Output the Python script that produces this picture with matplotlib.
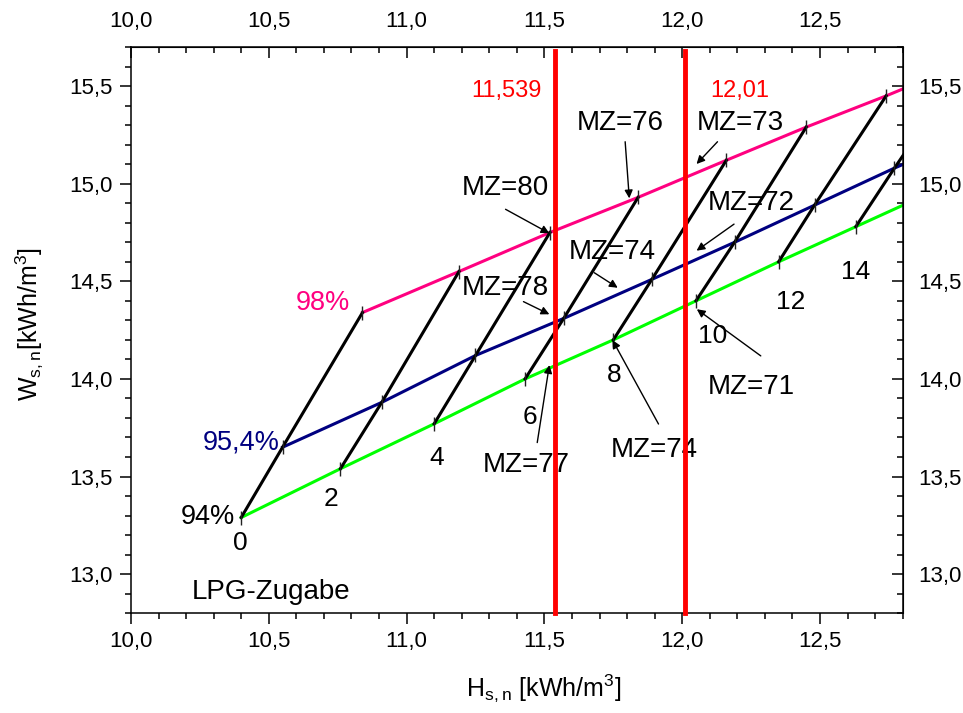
import matplotlib
matplotlib.use("Agg")
import matplotlib.pyplot as plt
import numpy as np
from matplotlib.ticker import FixedLocator, FuncFormatter

plt.rcParams['font.family'] = ['Liberation Sans', 'DejaVu Sans']

# LPG-Zugabe steps and the three methane-number curves (94 %, 95,4 %, 98 %)
lpg = [0, 2, 4, 6, 8, 10, 12, 14, 16]
green_x = [10.40, 10.76, 11.10, 11.43, 11.75, 12.05, 12.35, 12.63, 12.91]
green_y = [13.29, 13.54, 13.77, 14.00, 14.20, 14.40, 14.60, 14.78, 14.96]
blue_x = [10.55, 10.91, 11.25, 11.57, 11.89, 12.19, 12.48, 12.77, 13.05]
blue_y = [13.65, 13.88, 14.12, 14.31, 14.51, 14.70, 14.89, 15.08, 15.25]
pink_x = [10.84, 11.19, 11.52, 11.84, 12.16, 12.45, 12.74, 13.03, 13.31]
pink_y = [14.34, 14.55, 14.75, 14.93, 15.12, 15.29, 15.45, 15.62, 15.78]

curve_labels = ['94%', '95,4%', '98%']
ref_lines = [11.539, 12.01]
ref_labels = ['11,539', '12,01']

x_major = [10.0, 10.5, 11.0, 11.5, 12.0, 12.5]
y_major = [13.0, 13.5, 14.0, 14.5, 15.0, 15.5]
x_minor = np.round(np.arange(10.0, 12.81, 0.1), 2)
y_minor = np.round(np.arange(12.8, 15.71, 0.1), 2)

# MZ annotations: text, text pos, arrow tail, arrow head
mz_notes = [
    ('MZ=80', (11.359, 14.976), (11.359, 14.869), (11.518, 14.746)),
    ('MZ=76', (11.774, 15.309), (11.793, 15.215), (11.808, 14.925)),
    ('MZ=73', (12.209, 15.309), (12.128, 15.215), (12.052, 15.101)),
    ('MZ=72', (12.249, 14.899), (12.188, 14.793), (12.052, 14.657)),
    ('MZ=74', (11.747, 14.652), (11.681, 14.544), (11.766, 14.467)),
    ('MZ=78', (11.359, 14.464), (11.424, 14.396), (11.518, 14.331)),
    ('MZ=77', (11.435, 13.559), (11.474, 13.674), (11.518, 14.071)),
    ('MZ=74', (11.899, 13.636), (11.914, 13.769), (11.747, 14.199)),
    ('MZ=71', (12.250, 13.959), (12.285, 14.118), (12.053, 14.357)),
]
num_pos = [(10.397, 13.158), (10.725, 13.384), (11.109, 13.595), (11.446, 13.807),
           (11.754, 14.020), (12.112, 14.220), (12.394, 14.396), (12.629, 14.549)]

fig = plt.figure(figsize=(9.63, 7.13), dpi=100)
ax = fig.add_axes([0.136, 0.14, 0.8014, 0.794])

ax.plot(green_x, green_y, color='#00ff00', lw=2.2, zorder=2)
ax.plot(blue_x, blue_y, color='#000080', lw=2.2, zorder=2)
ax.plot(pink_x, pink_y, color='#ff0080', lw=2.2, zorder=2)

for i in range(len(lpg)):
    ax.plot([green_x[i], blue_x[i], pink_x[i]], [green_y[i], blue_y[i], pink_y[i]],
            color='black', lw=2.2, marker='|', ms=10, mew=1, mec='#222222', zorder=3)

for xv in ref_lines:
    ax.plot([xv, xv], [12.8, 15.68], color='red', lw=3.5, zorder=5, clip_on=False)
ax.text(11.362, 15.475, ref_labels[0], color='red', fontsize=17, ha='center', va='center')
ax.text(12.21, 15.475, ref_labels[1], color='red', fontsize=17, ha='center', va='center')

for txt, tpos, tail, head in mz_notes:
    ax.text(tpos[0], tpos[1], txt, fontsize=20, ha='center', va='center', zorder=4)
    ax.annotate('', xy=head, xytext=tail,
                arrowprops=dict(arrowstyle='-|>', lw=1, color='black', mutation_scale=12,
                                shrinkA=0, shrinkB=0), zorder=4)

for k, (px, py) in enumerate(num_pos):
    ax.text(px, py, str(lpg[k]), fontsize=19, ha='center', va='center')

ax.text(10.377, 13.295, curve_labels[0], color='black', fontsize=19.5, ha='right', va='center')
ax.text(10.540, 13.674, curve_labels[1], color='#000080', fontsize=19.5, ha='right', va='center')
ax.text(10.796, 14.387, curve_labels[2], color='#ff0080', fontsize=19.5, ha='right', va='center')
ax.text(10.51, 12.911, 'LPG-Zugabe', fontsize=20, ha='center', va='center')

ax.set_xlim(10.0, 12.8)
ax.set_ylim(12.8, 15.7)

comma = FuncFormatter(lambda v, p: f"{v:.1f}".replace('.', ','))
ax.xaxis.set_major_locator(FixedLocator(x_major))
ax.xaxis.set_minor_locator(FixedLocator(x_minor))
ax.yaxis.set_major_locator(FixedLocator(y_major))
ax.yaxis.set_minor_locator(FixedLocator(y_minor))
ax.xaxis.set_major_formatter(comma)
ax.yaxis.set_major_formatter(comma)
ax.tick_params(which='major', direction='out', length=8, width=1.1, labelsize=16, pad=5)
ax.tick_params(which='minor', direction='out', length=4.5, width=1.1)
for s in ax.spines.values():
    s.set_linewidth(1.1)

top = ax.secondary_xaxis('top')
top.xaxis.set_major_locator(FixedLocator(x_major))
top.xaxis.set_minor_locator(FixedLocator(x_minor))
top.xaxis.set_major_formatter(comma)
top.tick_params(which='major', direction='in', length=8, width=1.1, labelsize=16, pad=11)
top.tick_params(which='minor', direction='in', length=4.5, width=1.1)

right = ax.secondary_yaxis('right')
right.yaxis.set_major_locator(FixedLocator(y_major))
right.yaxis.set_minor_locator(FixedLocator(y_minor))
right.yaxis.set_major_formatter(comma)
right.tick_params(which='major', direction='in', length=8, width=1.1, labelsize=16, pad=11)
right.tick_params(which='minor', direction='in', length=4.5, width=1.1)

ax.set_xlabel(r'H$_{\mathregular{s,n}}$ [kWh/m$^{\mathregular{3}}$]', fontsize=18)
ax.xaxis.set_label_coords(0.535, -0.105)
ax.set_ylabel(r'W$_{\mathregular{s,n}}$[kWh/m$^{\mathregular{3}}$]', fontsize=18)
ax.yaxis.set_label_coords(-0.112, 0.51)

fig.savefig('out.png', dpi=100)
